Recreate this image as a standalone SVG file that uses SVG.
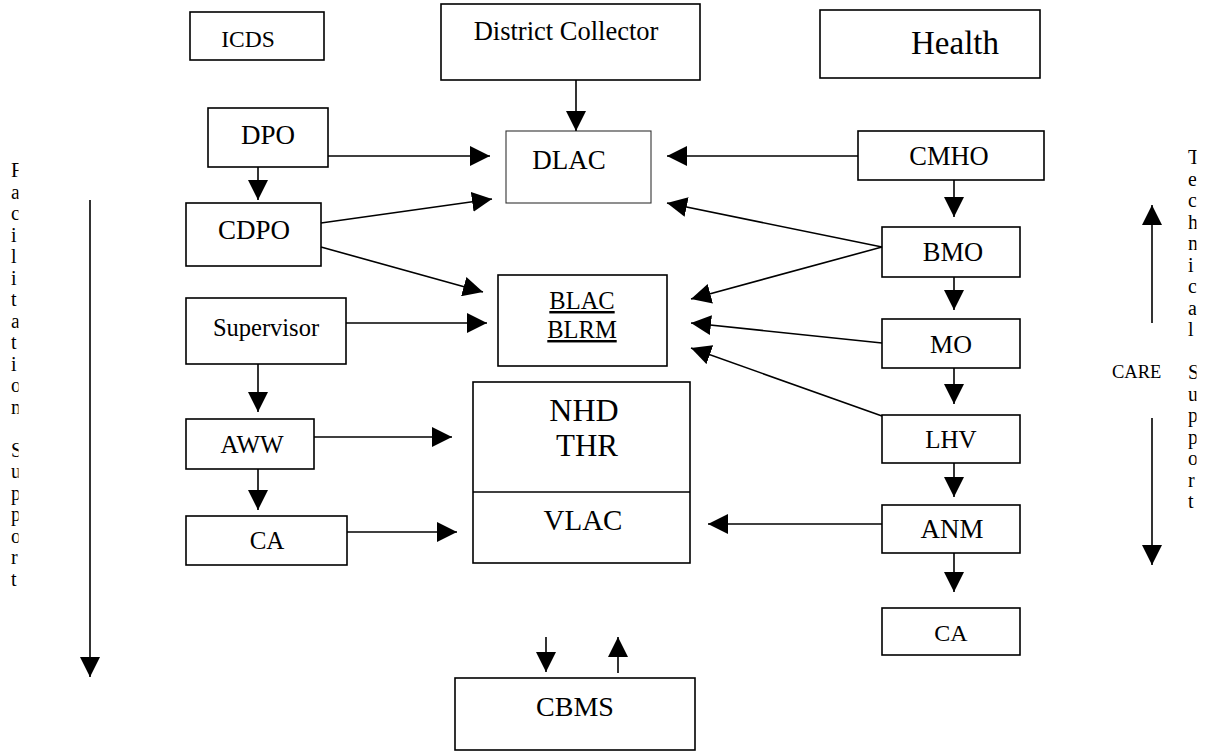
<svg xmlns="http://www.w3.org/2000/svg" width="1205" height="753" viewBox="0 0 1205 753">
  <style>
    .box { fill: #ffffff; stroke: #000000; stroke-width: 1.6; }
    .thin { fill: #ffffff; stroke: #333333; stroke-width: 1.1; }
    .lbl { font-family: "Liberation Serif", "Times New Roman", serif; fill: #000000; text-anchor: middle; }
    .side { font-family: "Liberation Serif", "Times New Roman", serif; fill: #000000; font-size: 20px; }
    .conn line { stroke: #000000; stroke-width: 1.6; marker-end: url(#head); }
    .u { text-decoration: underline; }
  </style>
  <defs>
    <marker id="head" markerUnits="userSpaceOnUse" markerWidth="20" markerHeight="20" refX="20" refY="10" orient="auto">
      <path d="M0,0 L20,10 L0,20 Z" fill="#000000"/>
    </marker>
    <clipPath id="leftCol"><rect x="0" y="140" width="18.5" height="470"/></clipPath>
    <clipPath id="rightCol"><rect x="1180" y="140" width="16.5" height="380"/></clipPath>
  </defs>
  <rect width="1205" height="753" fill="#ffffff"/>

  <!-- heads of the three departments -->
  <g id="icds"><rect class="box" x="190" y="12" width="134" height="48"/><text class="lbl" x="248" y="47" font-size="23.5">ICDS</text></g>
  <g id="collector"><rect class="box" x="441" y="4" width="259" height="76"/><text class="lbl" x="566" y="40" font-size="26.5">District Collector</text></g>
  <g id="health"><rect class="box" x="820" y="10" width="220" height="68"/><text class="lbl" x="955" y="54" font-size="33">Health</text></g>

  <!-- ICDS column -->
  <g id="dpo"><rect class="box" x="208" y="108" width="120" height="59"/><text class="lbl" x="268" y="144" font-size="27">DPO</text></g>
  <g id="cdpo"><rect class="box" x="186" y="203" width="135" height="63"/><text class="lbl" x="254" y="239" font-size="27">CDPO</text></g>
  <g id="supervisor"><rect class="box" x="186" y="298" width="160" height="66"/><text class="lbl" x="266" y="336" font-size="24.5">Supervisor</text></g>
  <g id="aww"><rect class="box" x="186" y="419" width="128" height="50"/><text class="lbl" x="252" y="453" font-size="25">AWW</text></g>
  <g id="ca-icds"><rect class="box" x="186" y="516" width="161" height="49"/><text class="lbl" x="267" y="549" font-size="25">CA</text></g>

  <!-- committees -->
  <g id="dlac"><rect class="thin" x="506" y="131" width="145" height="72"/><text class="lbl" x="569" y="169" font-size="27">DLAC</text></g>
  <g id="blac"><rect class="box" x="498" y="275" width="169" height="91"/>
    <text class="lbl u" x="582" y="309" font-size="24.5">BLAC</text>
    <text class="lbl u" x="582" y="338" font-size="24.5">BLRM</text></g>
  <g id="nhd-vlac"><rect class="box" x="473" y="382" width="217" height="181"/>
    <line x1="473" y1="492" x2="690" y2="492" stroke="#000000" stroke-width="1.6"/>
    <text class="lbl" x="584" y="421" font-size="32">NHD</text>
    <text class="lbl" x="587" y="456" font-size="31">THR</text>
    <text class="lbl" x="583" y="530" font-size="29">VLAC</text></g>
  <g id="cbms"><rect class="box" x="455" y="678" width="240" height="72"/><text class="lbl" x="575" y="716" font-size="28">CBMS</text></g>

  <!-- Health column -->
  <g id="cmho"><rect class="box" x="858" y="131" width="186" height="49"/><text class="lbl" x="949" y="165" font-size="26.5">CMHO</text></g>
  <g id="bmo"><rect class="box" x="882" y="227" width="138" height="50"/><text class="lbl" x="953" y="261" font-size="26.5">BMO</text></g>
  <g id="mo"><rect class="box" x="882" y="319" width="138" height="49"/><text class="lbl" x="951" y="353" font-size="26">MO</text></g>
  <g id="lhv"><rect class="box" x="882" y="415" width="138" height="48"/><text class="lbl" x="951" y="448" font-size="25">LHV</text></g>
  <g id="anm"><rect class="box" x="882" y="505" width="138" height="48"/><text class="lbl" x="952" y="538" font-size="27">ANM</text></g>
  <g id="ca-health"><rect class="box" x="882" y="608" width="138" height="47"/><text class="lbl" x="951" y="641" font-size="24">CA</text></g>

  <!-- side captions -->
  <g id="facilitation" clip-path="url(#leftCol)">
    <text class="side" x="11" y="177">F</text>
    <text class="side" x="11" y="198.5">a</text>
    <text class="side" x="11" y="220">c</text>
    <text class="side" x="11" y="241.5">i</text>
    <text class="side" x="11" y="263">l</text>
    <text class="side" x="11" y="284.5">i</text>
    <text class="side" x="11" y="306">t</text>
    <text class="side" x="11" y="327.5">a</text>
    <text class="side" x="11" y="349">t</text>
    <text class="side" x="11" y="370.5">i</text>
    <text class="side" x="11" y="392">o</text>
    <text class="side" x="11" y="413.5">n</text>
    <text class="side" x="11" y="456.5">S</text>
    <text class="side" x="11" y="478">u</text>
    <text class="side" x="11" y="499.5">p</text>
    <text class="side" x="11" y="521">p</text>
    <text class="side" x="11" y="542.5">o</text>
    <text class="side" x="11" y="564">r</text>
    <text class="side" x="11" y="585.5">t</text>
  </g>
  <g id="technical" clip-path="url(#rightCol)">
    <text class="side" x="1188" y="164">T</text>
    <text class="side" x="1188" y="185.5">e</text>
    <text class="side" x="1188" y="207">c</text>
    <text class="side" x="1188" y="228.5">h</text>
    <text class="side" x="1188" y="250">n</text>
    <text class="side" x="1188" y="271.5">i</text>
    <text class="side" x="1188" y="293">c</text>
    <text class="side" x="1188" y="314.5">a</text>
    <text class="side" x="1188" y="336">l</text>
    <text class="side" x="1188" y="379">S</text>
    <text class="side" x="1188" y="400.5">u</text>
    <text class="side" x="1188" y="422">p</text>
    <text class="side" x="1188" y="443.5">p</text>
    <text class="side" x="1188" y="465">o</text>
    <text class="side" x="1188" y="486.5">r</text>
    <text class="side" x="1188" y="508">t</text>
  </g>
  <g id="care"><text class="side" x="1112" y="378" style="font-size:18.5px">CARE</text></g>

  <!-- connectors -->
  <g id="connectors" class="conn">
    <line x1="576" y1="80" x2="576" y2="131"/>
    <line x1="258" y1="167" x2="258" y2="200"/>
    <line x1="328" y1="156" x2="490" y2="156"/>
    <line x1="321" y1="223" x2="492" y2="199"/>
    <line x1="321" y1="247" x2="483" y2="292"/>
    <line x1="346" y1="323" x2="487" y2="323"/>
    <line x1="258" y1="364" x2="258" y2="412"/>
    <line x1="314" y1="437" x2="452" y2="437"/>
    <line x1="258" y1="469" x2="258" y2="510"/>
    <line x1="347" y1="532" x2="457" y2="532"/>
    <line x1="858" y1="156" x2="667" y2="156"/>
    <line x1="882" y1="247" x2="667" y2="203"/>
    <line x1="882" y1="247" x2="691" y2="299"/>
    <line x1="882" y1="343" x2="691" y2="323"/>
    <line x1="882" y1="416" x2="691" y2="348"/>
    <line x1="882" y1="524" x2="708" y2="524"/>
    <line x1="954" y1="180" x2="954" y2="217"/>
    <line x1="954" y1="277" x2="954" y2="310"/>
    <line x1="954" y1="368" x2="954" y2="404"/>
    <line x1="954" y1="463" x2="954" y2="497"/>
    <line x1="954" y1="553" x2="954" y2="592"/>
    <line x1="546" y1="637" x2="546" y2="672"/>
    <line x1="618" y1="673" x2="618" y2="637"/>
    <line x1="90" y1="200" x2="90" y2="677"/>
    <line x1="1152" y1="323" x2="1152" y2="205"/>
    <line x1="1152" y1="418" x2="1152" y2="565"/>
  </g>
</svg>
